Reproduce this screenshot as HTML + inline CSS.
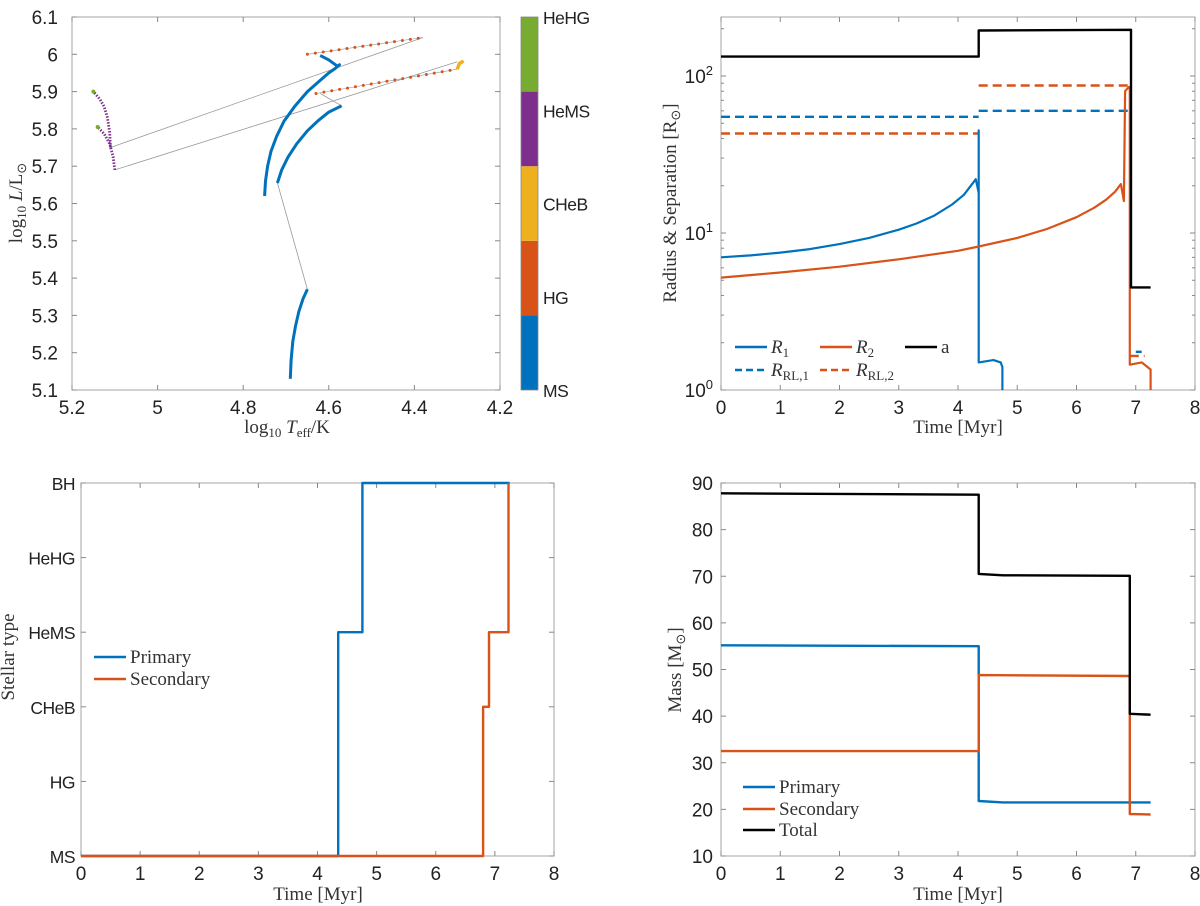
<!DOCTYPE html>
<html><head><meta charset="utf-8"><style>
body{margin:0;background:#fff;}
svg{display:block;}
text{font-family:"Liberation Sans",sans-serif;font-size:19px;fill:#222;}
.ser{font-family:"Liberation Serif",serif;font-size:19px;fill:#333;}
.cat{font-size:17.5px;letter-spacing:-0.5px;}
</style></head><body>
<svg id="fig" width="1200" height="906" viewBox="0 0 1200 906" xmlns="http://www.w3.org/2000/svg">
<g id="g-tl"></g>
<g id="g-tr"></g>
<g id="g-bl"></g>
<g id="g-br"></g>
</svg>
<script>
// ---- HR diagram data (logTeff, logL) ----
const hrMS1T=[4.69,4.688,4.684,4.678,4.67,4.66,4.65];
const hrMS1L=[5.13,5.18,5.23,5.27,5.31,5.345,5.37];
const hrMS2T=[4.72,4.71,4.695,4.675,4.65,4.625,4.60,4.57];
const hrMS2L=[5.655,5.69,5.725,5.76,5.795,5.822,5.845,5.862];
const hrMS3T=[4.75,4.748,4.743,4.735,4.722,4.705,4.68,4.65,4.62,4.60,4.585,4.575,4.58,4.60,4.62];
const hrMS3L=[5.62,5.66,5.70,5.74,5.78,5.82,5.86,5.90,5.93,5.95,5.962,5.972,5.968,5.985,5.997];
const hrHG1T=[4.65,4.38]; const hrHG1L=[6.0,6.045];
const hrHG2T=[4.63,4.30]; const hrHG2L=[5.895,5.96];
const hrCHeBT=[4.30,4.295,4.285]; const hrCHeBL=[5.96,5.975,5.982];
const hrHe1T=[5.11,5.112,5.117,5.125,5.135,5.15]; const hrHe1L=[5.75,5.79,5.83,5.86,5.88,5.90];
const hrHe2T=[5.10,5.104,5.112,5.125,5.14]; const hrHe2L=[5.69,5.725,5.76,5.787,5.805];
const hrGapT=[[4.65,4.72],[4.57,4.62],[4.38,5.11],[4.30,5.10]];
const hrGapL=[[5.37,5.655],[5.862,5.895],[6.045,5.75],[5.98,5.69]];
const hrTicksX=[5.2,5,4.8,4.6,4.4,4.2];
const hrTicksY=[5.1,5.2,5.3,5.4,5.5,5.6,5.7,5.8,5.9,6,6.1];
const cbLabels=["MS","HG","CHeB","HeMS","HeHG"];
// ---- Radius panel ----
const aT=[0,4.35,4.35,6.9,6.92,6.92,7.25]; const aV=[133,133,195,197,197,4.5,4.5];
const rl1T=[0,4.35]; const rl1V=[55,55]; const rl1bT=[4.35,6.9]; const rl1bV=[60,60]; const rl1cT=[7.0,7.1]; const rl1cV=[1.75,1.75];
const rl2T=[0,4.35]; const rl2V=[43,43]; const rl2bT=[4.35,6.9]; const rl2bV=[87,87]; const rl2cT=[6.9,7.15]; const rl2cV=[1.65,1.65];
const r1T=[0,0.5,1,1.5,2,2.5,3,3.3,3.6,3.9,4.1,4.3,4.35,4.35,4.35,4.6,4.72,4.75,4.75];
const r1V=[7.0,7.2,7.5,7.9,8.5,9.3,10.5,11.5,12.9,15.2,17.5,22,18,45,1.5,1.55,1.5,1.4,0.9];
const r2T=[0,1,2,3,4,4.35,5,5.5,6,6.3,6.5,6.65,6.75,6.8,6.82,6.88,6.9,6.9,7.1,7.2,7.25,7.25];
const r2V=[5.2,5.6,6.1,6.8,7.7,8.2,9.3,10.6,12.6,14.5,16.3,18.3,20.5,16,80,85,85,1.45,1.5,1.4,1.35,0.9];
const timeTicks=[0,1,2,3,4,5,6,7,8];
// ---- Stellar type panel ----
const typeLabels=["MS","HG","CHeB","HeMS","HeHG","BH"];
const pTypeT=[0,4.35,4.35,4.76,4.76,7.25]; const pTypeV=[0,0,3,3,5,5];
const sTypeT=[0,6.8,6.8,6.9,6.9,7.23,7.23]; const sTypeV=[0,0,2,2,3,3,5];
// ---- Mass panel ----
const totT=[0,4.35,4.35,4.76,6.9,6.9,7.25]; const totM=[87.8,87.5,70.5,70.2,70.1,40.5,40.3];
const priT=[0,4.35,4.35,4.76,7.25]; const priM=[55.2,55.0,21.8,21.5,21.5];
const secT=[0,4.35,4.35,6.9,6.9,7.25]; const secM=[32.5,32.5,48.8,48.6,19,18.9];
const massTicks=[10,20,30,40,50,60,70,80,90];

const NS="http://www.w3.org/2000/svg";
const BLUE="#0072BD",RED="#D95319",YEL="#EDB120",PUR="#7E2F8E",GRN="#77AC30";
function mk(parent,tag,attrs,txt){const e=document.createElementNS(NS,tag);for(const k in attrs)e.setAttribute(k,attrs[k]);if(txt!==undefined)e.textContent=txt;parent.appendChild(e);return e;}
function line(parent,xs,ys,fx,fy,style,name){
  const pts=xs.map((v,i)=>fx(v).toFixed(1)+","+fy(ys[i]).toFixed(1)).join(" ");
  const p=mk(parent,"polyline",Object.assign({points:pts,fill:"none","stroke-linejoin":"round"},style));
  
  
  return p;
}
function frame(g,L,R,T,B,name){
  const r=mk(g,"rect",{x:L,y:T,width:R-L,height:B-T,fill:"none",stroke:"#a6a6a6","stroke-width":1});
  
  
}
function tickX(g,px,T,B,label,y,name){
  mk(g,"line",{x1:px,x2:px,y1:B,y2:B-5,stroke:"#888"});
  mk(g,"line",{x1:px,x2:px,y1:T,y2:T+5,stroke:"#888"});
  const t=mk(g,"text",{x:px,y:y,"text-anchor":"middle"},label);
  
  
}
function tickY(g,py,L,R,label,x,name,cls){
  mk(g,"line",{x1:L,x2:L+5,y1:py,y2:py,stroke:"#888"});
  mk(g,"line",{x1:R,x2:R-5,y1:py,y2:py,stroke:"#888"});
  if(label!==null){const t=mk(g,"text",{x:x,y:py+7,"text-anchor":"end"},label);
  if(cls) t.setAttribute("class",cls);
  
  }
}
function ylabel(g,x,y,html,name){
  const t=mk(g,"text",{x:x,y:y,"class":"ser",transform:"rotate(-90 "+x+" "+y+")","text-anchor":"middle"});
  t.innerHTML=html;
  
  
}
function xlabel(g,x,y,html,name){
  const t=mk(g,"text",{x:x,y:y,"class":"ser","text-anchor":"middle"});
  t.innerHTML=html;
  
  
}

// ===== TL HR diagram =====
(function(){
const g=document.getElementById("g-tl");
const L=72,R=500,T=17,B=390;
const fx=v=>L+(5.2-v)*(R-L);
const fy=v=>T+(6.1-v)*(B-T);
frame(g,L,R,T,B,"hr-plot-area");
hrTicksX.forEach(v=>tickX(g,fx(v),T,B,String(v),414,"x-tick-label"));
hrTicksY.forEach(v=>tickY(g,fy(v),L,R,String(v),58,"y-tick-label"));
hrGapT.forEach((a,i)=>line(g,a,hrGapL[i],fx,fy,{stroke:"#999","stroke-width":0.8},"transition-line"));
line(g,hrMS1T,hrMS1L,fx,fy,{stroke:BLUE,"stroke-width":3},"ms-track-primary");
line(g,hrMS2T,hrMS2L,fx,fy,{stroke:BLUE,"stroke-width":3},"ms-track-secondary");
line(g,hrMS3T,hrMS3L,fx,fy,{stroke:BLUE,"stroke-width":3},"ms-track-accretor");
line(g,hrHG1T,hrHG1L,fx,fy,{stroke:"#999","stroke-width":0.6},"hg-track-1-line");
line(g,hrHG1T,hrHG1L,fx,fy,{stroke:RED,"stroke-width":3,"stroke-dasharray":"0 8","stroke-linecap":"round"},"hg-track-1");
line(g,hrHG2T,hrHG2L,fx,fy,{stroke:"#999","stroke-width":0.6},"hg-track-2-line");
line(g,hrHG2T,hrHG2L,fx,fy,{stroke:RED,"stroke-width":3,"stroke-dasharray":"0 8","stroke-linecap":"round"},"hg-track-2");
line(g,hrCHeBT,hrCHeBL,fx,fy,{stroke:YEL,"stroke-width":3.5},"cheb-track");
line(g,hrHe1T,hrHe1L,fx,fy,{stroke:PUR,"stroke-width":2.8,"stroke-dasharray":"1.5 1.5"},"hems-track-1");
line(g,hrHe2T,hrHe2L,fx,fy,{stroke:PUR,"stroke-width":2.8,"stroke-dasharray":"1.5 1.5"},"hems-track-2");
[[5.15,5.90],[5.14,5.805]].forEach(p=>{const c=mk(g,"circle",{cx:fx(p[0]),cy:fy(p[1]),r:2,fill:GRN});

});
ylabel(g,22,203,'log<tspan font-size="13" dy="4">10</tspan><tspan dy="-4"> </tspan><tspan font-style="italic">L</tspan>/L<tspan font-size="13" dy="4">⊙</tspan>',"y-axis-title");
xlabel(g,287,433,'log<tspan font-size="13" dy="4">10</tspan><tspan dy="-4"> </tspan><tspan font-style="italic">T</tspan><tspan font-size="13" dy="4">eff</tspan><tspan dy="-4">/K</tspan>',"x-axis-title");
// colorbar
const cols=[BLUE,RED,YEL,PUR,GRN];
const segH=(B-T)/cols.length;
cols.forEach((c,i)=>{const r=mk(g,"rect",{x:521,y:B-(i+1)*segH,width:17,height:segH,fill:c});

});
mk(g,"rect",{x:521,y:T,width:17,height:B-T,fill:"none",stroke:"#888","stroke-width":0.8});
cbLabels.forEach((s,i)=>{const t=mk(g,"text",{x:543,y:B-i*(B-T)/(cbLabels.length-1)+7,"class":"cat"},s);

});
})();

// ===== TR radius =====
(function(){
const g=document.getElementById("g-tr");
const L=721,R=1195,T=17,B=390;
const fx=v=>L+v*(R-L)/8;
const clip=mk(g,"clipPath",{id:"cliptr"});mk(clip,"rect",{x:L,y:T,width:R-L,height:B-T});
frame(g,L,R,T,B,"radius-plot-area");
timeTicks.forEach(v=>tickX(g,fx(v),T,B,String(v),414,"x-tick-label"));
const fyc=v=>B-157*Math.log10(v);
[1,10,100].forEach((v,i)=>{tickY(g,fyc(v),L,R,null,0,"");
const t=mk(g,"text",{x:L-8,y:fyc(v)+7,"text-anchor":"end"});t.innerHTML='10<tspan font-size="13" dy="-8">'+i+'</tspan>';

});
[2,3,4,5,6,7,8,9,20,30,40,50,60,70,80,90,200].forEach(v=>{const py=fyc(v);if(py>T){mk(g,"line",{x1:L,x2:L+3,y1:py,y2:py,stroke:"#888"});mk(g,"line",{x1:R,x2:R-3,y1:py,y2:py,stroke:"#888"});}});
const pg=mk(g,"g",{"clip-path":"url(#cliptr)"});
line(pg,rl1T,rl1V,fx,fyc,{stroke:BLUE,"stroke-width":2.4,"stroke-dasharray":"9 5"},"rl1-line");
line(pg,rl1bT,rl1bV,fx,fyc,{stroke:BLUE,"stroke-width":2.4,"stroke-dasharray":"9 5"},"rl1-line-after");
line(pg,rl1cT,rl1cV,fx,fyc,{stroke:BLUE,"stroke-width":2.4,"stroke-dasharray":"9 5"},"rl1-line-late");
line(pg,rl2T,rl2V,fx,fyc,{stroke:RED,"stroke-width":2.4,"stroke-dasharray":"9 5"},"rl2-line");
line(pg,rl2bT,rl2bV,fx,fyc,{stroke:RED,"stroke-width":2.4,"stroke-dasharray":"9 5"},"rl2-line-after");
line(pg,rl2cT,rl2cV,fx,fyc,{stroke:RED,"stroke-width":2.4,"stroke-dasharray":"9 5"},"rl2-line-late");
line(pg,r1T,r1V,fx,fyc,{stroke:BLUE,"stroke-width":2.2},"r1-line");
line(pg,r2T,r2V,fx,fyc,{stroke:RED,"stroke-width":2.2},"r2-line");
line(pg,aT,aV,fx,fyc,{stroke:"#000","stroke-width":2.4},"separation-line");
ylabel(g,676,203,'Radius &amp; Separation [R<tspan font-size="13" dy="4">⊙</tspan><tspan dy="-4">]</tspan>',"y-axis-title");
xlabel(g,958,433,'Time [Myr]',"x-axis-title");
const lg=mk(g,"g",{});
const items=[[735,347,BLUE,"","R","1"],[820,347,RED,"","R","2"],[905,347,"#000","","a",""],[735,370,BLUE,"7 4","R","RL,1"],[820,370,RED,"7 4","R","RL,2"]];
items.forEach(it=>{mk(lg,"line",{x1:it[0],x2:it[0]+32,y1:it[1],y2:it[1],stroke:it[2],"stroke-width":2.4,"stroke-dasharray":it[3]});
const t=mk(lg,"text",{x:it[0]+36,y:it[1]+6,"class":"ser"});
t.innerHTML=(it[4]==="a"?'a':'<tspan font-style="italic">R</tspan><tspan font-size="13" dy="4">'+it[5]+'</tspan>');

});
})();

// ===== BL stellar type =====
(function(){
const g=document.getElementById("g-bl");
const L=81,R=554,T=483,B=856;
const fx=v=>L+v*(R-L)/8;
const fy=v=>B-v*(B-T)/5;
frame(g,L,R,T,B,"type-plot-area");
timeTicks.forEach(v=>tickX(g,fx(v),T,B,String(v),880,"x-tick-label"));
typeLabels.forEach((s,i)=>tickY(g,fy(i),L,R,s,75,"y-tick-label","cat"));
line(g,pTypeT,pTypeV,fx,fy,{stroke:BLUE,"stroke-width":2.4},"primary-type-line");
line(g,sTypeT,sTypeV,fx,fy,{stroke:RED,"stroke-width":2.4},"secondary-type-line");
ylabel(g,14,657,'Stellar type',"y-axis-title");
xlabel(g,318,900,'Time [Myr]',"x-axis-title");
[[657,BLUE,"Primary"],[679,RED,"Secondary"]].forEach(it=>{mk(g,"line",{x1:94,x2:126,y1:it[0],y2:it[0],stroke:it[1],"stroke-width":2.4});
const t=mk(g,"text",{x:130,y:it[0]+6,"class":"ser"},it[2]);

});
})();

// ===== BR mass =====
(function(){
const g=document.getElementById("g-br");
const L=721,R=1195,T=483,B=856;
const fx=v=>L+v*(R-L)/8;
const fy=v=>B-(v-10)*(B-T)/80;
frame(g,L,R,T,B,"mass-plot-area");
timeTicks.forEach(v=>tickX(g,fx(v),T,B,String(v),880,"x-tick-label"));
massTicks.forEach(v=>tickY(g,fy(v),L,R,String(v),713,"y-tick-label"));
line(g,priT,priM,fx,fy,{stroke:BLUE,"stroke-width":2.4},"primary-mass-line");
line(g,secT,secM,fx,fy,{stroke:RED,"stroke-width":2.4},"secondary-mass-line");
line(g,totT,totM,fx,fy,{stroke:"#000","stroke-width":2.4},"total-mass-line");
ylabel(g,681,670,'Mass [M<tspan font-size="13" dy="4">⊙</tspan><tspan dy="-4">]</tspan>',"y-axis-title");
xlabel(g,958,900,'Time [Myr]',"x-axis-title");
[[787,BLUE,"Primary"],[809,RED,"Secondary"],[830,"#000","Total"]].forEach(it=>{mk(g,"line",{x1:743,x2:775,y1:it[0],y2:it[0],stroke:it[1],"stroke-width":2.4});
const t=mk(g,"text",{x:779,y:it[0]+6,"class":"ser"},it[2]);

});
})();
</script>
</body></html>
